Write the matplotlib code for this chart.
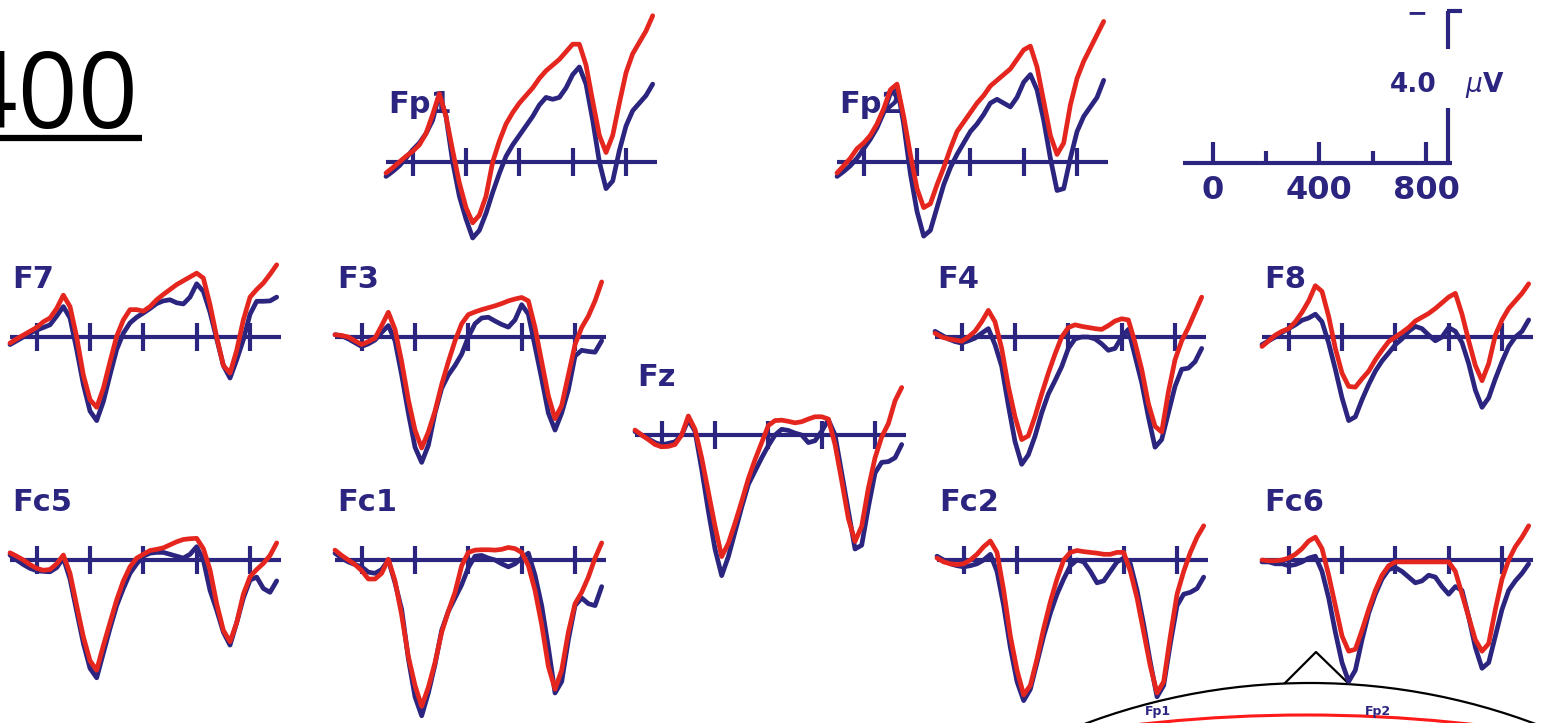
import numpy as np
import matplotlib.pyplot as plt
from matplotlib import font_manager
from matplotlib.patches import Circle

# time grid (ms) shared by all channels, values in microvolts (negative plotted up)
times = np.arange(-100, 901, 25)

fp1_blue = [0.38, 0.25, 0.10, -0.10, -0.32,
            -0.50, -0.75, -1.10, -1.80, -1.20, 0.00, 0.90, 1.50,
            2.00, 1.80, 1.35, 0.80, 0.30, -0.15, -0.45, -0.70,
            -0.95, -1.20, -1.50, -1.70, -1.65, -1.70, -1.95, -2.30,
            -2.50, -2.05, -1.10, 0.00, 0.70, 0.50, -0.30, -0.95,
            -1.35, -1.55, -1.75, -2.05]
fp1_red = [0.29, 0.15, 0.00, -0.15, -0.28,
           -0.45, -0.75, -1.25, -1.80, -1.20, -0.30, 0.55, 1.20,
           1.60, 1.40, 0.90, 0.00, -0.55, -1.00, -1.30, -1.55,
           -1.75, -1.95, -2.20, -2.40, -2.55, -2.70, -2.90, -3.10,
           -3.10, -2.55, -1.60, -0.70, -0.25, -0.70, -1.55, -2.35,
           -2.85, -3.15, -3.45, -3.85]
fp2_blue = [0.38, 0.25, 0.10, -0.10, -0.35,
            -0.60, -0.90, -1.30, -1.80, -2.00, -1.00, 0.30, 1.30,
            1.95, 1.80, 1.20, 0.60, 0.15, -0.20, -0.50, -0.80,
            -1.00, -1.25, -1.55, -1.65, -1.55, -1.45, -1.70, -2.10,
            -2.30, -1.90, -1.10, -0.10, 0.75, 0.70, -0.10, -0.80,
            -1.20, -1.45, -1.70, -2.15]
fp2_red = [0.29, 0.10, -0.10, -0.35, -0.50,
           -0.70, -1.00, -1.40, -1.90, -2.05, -1.20, -0.20, 0.70,
           1.20, 1.10, 0.60, 0.15, -0.35, -0.80, -1.05, -1.30,
           -1.55, -1.75, -2.00, -2.15, -2.30, -2.45, -2.70, -2.95,
           -3.05, -2.50, -1.60, -0.70, -0.20, -0.50, -1.50, -2.20,
           -2.65, -3.00, -3.35, -3.70]
f7_blue = [0.20, 0.10, 0.00, -0.10, -0.18,
           -0.25, -0.32, -0.55, -0.80, -0.50, 0.33, 1.25, 1.95,
           2.20, 1.70, 1.00, 0.33, -0.10, -0.37, -0.52, -0.63,
           -0.75, -0.88, -0.95, -0.98, -0.90, -0.87, -1.05, -1.40,
           -1.20, -0.65, 0.05, 0.75, 1.08, 0.60, 0.07, -0.60,
           -0.94, -0.94, -0.95, -1.05]
f7_red = [0.16, 0.05, -0.05, -0.15, -0.25,
          -0.40, -0.50, -0.75, -1.10, -0.80, 0.00, 1.00, 1.65,
          1.85, 1.35, 0.65, -0.02, -0.45, -0.72, -0.72, -0.68,
          -0.80, -0.98, -1.12, -1.25, -1.38, -1.48, -1.58, -1.68,
          -1.55, -0.85, 0.00, 0.75, 0.95, 0.35, -0.45, -1.05,
          -1.25, -1.42, -1.65, -1.90]
f3_blue = [-0.06, -0.03, 0.05, 0.15, 0.25,
           0.18, 0.08, -0.12, -0.30, 0.10, 1.00, 2.00, 2.90,
           3.30, 2.85, 2.00, 1.35, 1.00, 0.75, 0.45, 0.00,
           -0.35, -0.50, -0.52, -0.42, -0.33, -0.26, -0.45, -0.85,
           -0.60, 0.25, 1.10, 2.00, 2.45, 2.00, 1.39, 0.50,
           0.35, 0.38, 0.40, 0.10]
f3_red = [-0.06, -0.04, 0.00, 0.10, 0.20,
          0.12, 0.03, -0.30, -0.65, -0.20, 0.65, 1.65, 2.45,
          2.92, 2.50, 1.95, 1.25, 0.65, 0.10, -0.35, -0.59,
          -0.66, -0.72, -0.77, -0.82, -0.88, -0.95, -1.00, -1.04,
          -0.95, -0.25, 0.65, 1.55, 2.15, 1.80, 1.00, 0.20,
          -0.25, -0.55, -0.95, -1.45]
fz_blue = [-0.09, 0.00, 0.10, 0.20, 0.26,
           0.22, 0.18, 0.00, -0.40, -0.10, 0.90, 2.00, 3.00,
           3.70, 3.20, 2.55, 1.90, 1.30, 0.95, 0.60, 0.28,
           0.00, -0.15, -0.12, -0.05, 0.00, 0.20, 0.15, -0.10,
           -0.40, 0.00, 1.00, 2.00, 3.00, 2.90, 1.90, 1.00,
           0.72, 0.70, 0.60, 0.25]
fz_red = [-0.13, 0.00, 0.12, 0.25, 0.31,
          0.30, 0.25, 0.00, -0.50, -0.15, 0.60, 1.50, 2.40,
          3.20, 2.85, 2.32, 1.75, 1.15, 0.65, 0.20, -0.25,
          -0.38, -0.39, -0.36, -0.32, -0.35, -0.42, -0.48, -0.48,
          -0.42, 0.25, 1.20, 2.20, 2.80, 2.40, 1.40, 0.60,
          0.05, -0.30, -0.90, -1.25]
f4_blue = [-0.15, -0.05, 0.05, 0.12, 0.16,
           0.10, 0.03, -0.10, -0.22, 0.20, 0.77, 1.80, 2.75,
           3.35, 3.10, 2.61, 2.00, 1.50, 1.15, 0.78, 0.30,
           0.05, 0.00, 0.00, 0.05, 0.18, 0.35, 0.30, 0.00,
           -0.20, 0.50, 1.20, 2.10, 2.90, 2.70, 2.00, 1.30,
           0.85, 0.82, 0.65, 0.30]
f4_red = [-0.10, 0.00, 0.05, 0.08, 0.11,
          0.00, -0.15, -0.40, -0.70, -0.40, 0.30, 1.30, 2.10,
          2.70, 2.60, 2.09, 1.50, 0.95, 0.45, 0.00, -0.25,
          -0.32, -0.28, -0.25, -0.22, -0.20, -0.30, -0.42, -0.48,
          -0.45, 0.15, 0.85, 1.75, 2.35, 2.50, 1.45, 0.60,
          0.10, -0.25, -0.65, -1.05]
f8_blue = [0.20, 0.10, 0.00, -0.12, -0.22,
           -0.32, -0.44, -0.50, -0.60, -0.40, 0.16, 0.85, 1.60,
           2.20, 2.10, 1.65, 1.25, 0.90, 0.63, 0.42, 0.20,
           0.05, -0.15, -0.28, -0.22, -0.05, 0.10, 0.00, -0.25,
           -0.15, 0.15, 0.70, 1.40, 1.85, 1.60, 1.10, 0.65,
           0.25, 0.00, -0.15, -0.45]
f8_red = [0.25, 0.10, -0.05, -0.15, -0.22,
          -0.40, -0.65, -0.95, -1.35, -1.20, -0.54, 0.30, 0.95,
          1.30, 1.32, 1.10, 0.90, 0.60, 0.35, 0.12, 0.00,
          -0.12, -0.25, -0.42, -0.52, -0.62, -0.75, -0.90, -1.05,
          -1.15, -0.60, 0.10, 0.75, 1.15, 0.70, -0.05, -0.45,
          -0.75, -0.95, -1.15, -1.40]
fc5_blue = [-0.13, 0.00, 0.12, 0.22, 0.28,
            0.30, 0.31, 0.20, -0.05, 0.50, 1.35, 2.19, 2.85,
            3.10, 2.45, 1.80, 1.20, 0.75, 0.35, 0.10, -0.10,
            -0.18, -0.20, -0.20, -0.15, -0.10, -0.05, -0.15, -0.35,
            0.00, 0.80, 1.32, 1.90, 2.24, 1.65, 1.00, 0.53,
            0.45, 0.75, 0.85, 0.55]
fc5_red = [-0.19, -0.10, 0.00, 0.12, 0.22,
           0.27, 0.25, 0.10, -0.13, 0.35, 1.20, 2.02, 2.65,
           2.90, 2.25, 1.65, 1.05, 0.55, 0.18, -0.05, -0.15,
           -0.25, -0.28, -0.32, -0.40, -0.48, -0.54, -0.56, -0.57,
           -0.30, 0.26, 1.15, 1.85, 2.15, 1.65, 0.90, 0.44,
           0.25, 0.09, -0.12, -0.45]
fc1_blue = [-0.18, -0.05, 0.05, 0.12, 0.18,
            0.32, 0.35, 0.25, 0.00, 0.60, 1.30, 2.60, 3.60,
            4.10, 3.50, 2.75, 1.85, 1.35, 1.00, 0.65, 0.20,
            -0.10, -0.12, -0.05, 0.00, 0.10, 0.18, 0.10, -0.05,
            -0.18, 0.40, 1.20, 2.30, 3.50, 3.20, 2.10, 1.20,
            1.00, 1.15, 1.20, 0.70]
fc1_red = [-0.26, -0.12, 0.00, 0.12, 0.28,
           0.50, 0.50, 0.35, -0.02, 0.55, 1.45, 2.54, 3.30,
           3.85, 3.35, 2.70, 1.90, 1.35, 0.85, 0.15, -0.20,
           -0.26, -0.27, -0.27, -0.26, -0.28, -0.33, -0.30, -0.20,
           0.15, 0.80, 1.70, 2.80, 3.40, 2.90, 1.90, 1.15,
           0.85, 0.45, -0.05, -0.45]
fc2_blue = [-0.10, 0.00, 0.10, 0.15, 0.18,
            0.15, 0.10, 0.00, -0.15, 0.30, 1.20, 2.30, 3.20,
            3.70, 3.40, 2.70, 2.00, 1.40, 0.90, 0.50, 0.15,
            0.00, 0.05, 0.30, 0.60, 0.55, 0.30, 0.05, -0.05,
            0.10, 0.80, 1.70, 2.70, 3.60, 3.30, 2.20, 1.20,
            0.90, 0.85, 0.75, 0.45]
fc2_red = [-0.05, 0.05, 0.10, 0.12, 0.10,
           0.00, -0.15, -0.35, -0.50, -0.20, 0.80, 2.00, 2.90,
           3.55, 3.30, 2.60, 1.80, 1.10, 0.50, 0.00, -0.20,
           -0.25, -0.22, -0.20, -0.18, -0.15, -0.15, -0.20, -0.20,
           0.30, 1.00, 1.90, 2.80, 3.50, 3.20, 2.00, 0.90,
           0.30, -0.20, -0.60, -0.90]
fc6_blue = [0.05, 0.05, 0.10, 0.10, 0.15,
            0.12, 0.05, -0.05, -0.10, 0.30, 1.00, 1.90, 2.70,
            3.20, 2.90, 2.10, 1.40, 0.90, 0.50, 0.25, 0.20,
            0.30, 0.45, 0.60, 0.55, 0.40, 0.45, 0.70, 0.90,
            0.70, 0.80, 1.50, 2.30, 2.85, 2.70, 2.00, 1.30,
            0.80, 0.55, 0.35, 0.10]
fc6_red = [0.00, 0.02, 0.02, 0.00, -0.05,
           -0.15, -0.30, -0.50, -0.60, -0.30, 0.40, 1.20, 2.00,
           2.40, 2.35, 1.85, 1.30, 0.80, 0.40, 0.15, 0.05,
           0.05, 0.05, 0.05, 0.05, 0.05, 0.05, 0.05, 0.05,
           0.30, 0.90, 1.50, 2.10, 2.40, 2.20, 1.30, 0.50,
           0.00, -0.35, -0.60, -0.90]

# channel name -> (blue, red, left pixel of -100 ms, baseline pixel row)
channels = [
    ("Fp1", fp1_blue, fp1_red, 386, 162),
    ("Fp2", fp2_blue, fp2_red, 837, 162),
    ("F7", f7_blue, f7_red, 10, 337),
    ("F3", f3_blue, f3_red, 335, 337),
    ("Fz", fz_blue, fz_red, 635, 435),
    ("F4", f4_blue, f4_red, 935, 337),
    ("F8", f8_blue, f8_red, 1262, 337),
    ("Fc5", fc5_blue, fc5_red, 10, 560),
    ("Fc1", fc1_blue, fc1_red, 335, 560),
    ("Fc2", fc2_blue, fc2_red, 937, 560),
    ("Fc6", fc6_blue, fc6_red, 1262, 560),
]
tick_ms = [0, 200, 400, 600, 800]

W, H = 1543, 723
PX_MS = 0.2667   # pixels per ms
PX_UV = 38.0     # pixels per microvolt
NAVY = "#2c2580"
RED = "#e4261f"

# narrow face for the big title if we have one
installed = {f.name for f in font_manager.fontManager.ttflist}
title_font = "Liberation Sans Narrow" if "Liberation Sans Narrow" in installed else "Open Sans"
title_size = 86 if title_font == "Liberation Sans Narrow" else 76

fig = plt.figure(figsize=(W / 100, H / 100), dpi=100)
fig.patch.set_facecolor("white")

# overlay in pixel coordinates for title and head sketch
ov = fig.add_axes([0, 0, 1, 1])
ov.set_xlim(0, W)
ov.set_ylim(H, 0)
ov.axis("off")
ov.text(139, 128, "N400", fontsize=title_size, family=title_font, color="black",
        ha="right", va="baseline")
ov.hlines(138, 0, 142, color="black", lw=4.5)
ov.add_patch(Circle((1310, 1324), 641, fill=False, ec="black", lw=1.6))
ov.add_patch(Circle((1306, 2191), 1476, fill=False, ec="#ff1a1a", lw=2.2))
ov.plot([1285, 1316, 1348], [683, 652, 683], color="black", lw=1.6)
ov.text(1158, 712, "Fp1", fontsize=9, fontweight="bold", color=NAVY, ha="center", va="center")
ov.text(1378, 712, "Fp2", fontsize=9, fontweight="bold", color=NAVY, ha="center", va="center")


def panel(x0, base):
    ax = fig.add_axes([x0 / W, (H - base - 170) / H, 300 / W, 370 / H])
    ax.set_xlim(-100, -100 + 300 / PX_MS)
    ax.set_ylim(170 / PX_UV, -200 / PX_UV)   # negative up
    ax.axis("off")
    return ax


for name, blue, red, x0, base in channels:
    ax = panel(x0, base)
    ax.text(-92, -1.28, name, fontsize=22, fontweight="bold", color=NAVY,
            ha="left", va="baseline", zorder=1)
    ax.hlines(0, -100, 915, color=NAVY, lw=3.0, zorder=2, clip_on=False)
    ax.vlines(tick_ms, -0.37, 0.37, color=NAVY, lw=3.0, zorder=2, clip_on=False)
    ax.plot(times, blue, color=NAVY, lw=3.4, zorder=3, clip_on=False,
            solid_joinstyle="round", solid_capstyle="round")
    ax.plot(times, red, color=RED, lw=3.4, zorder=4, clip_on=False,
            solid_joinstyle="round", solid_capstyle="round")

# calibration bar
sax = panel(1186, 163)
sax.hlines(0, -111, 897, color=NAVY, lw=3.0, clip_on=False)
sax.vlines([0, 400, 800], -0.55, 0, color=NAVY, lw=3.0, clip_on=False)
sax.vlines([200, 600], -0.32, 0, color=NAVY, lw=3.0, clip_on=False)
sax.vlines(882, -1.45, 0, color=NAVY, lw=3.0, clip_on=False)
sax.vlines(882, -4.0, -3.0, color=NAVY, lw=3.0, clip_on=False)
sax.hlines(-4.0, 877, 934, color=NAVY, lw=3.0, clip_on=False)
sax.text(766, -3.95, "\u2212", fontsize=18, fontweight="bold", color=NAVY,
         ha="center", va="center")
sax.text(841, -2.05, "4.0", fontsize=19, fontweight="bold", color=NAVY,
         ha="right", va="center")
sax.text(946, -2.05, r"$\mu$V", fontsize=19, fontweight="bold", color=NAVY,
         ha="left", va="center")
for t in [0, 400, 800]:
    sax.text(t, 0.72, str(t), fontsize=23, fontweight="bold", color=NAVY,
             ha="center", va="center")

fig.savefig("out.png", dpi=100)
